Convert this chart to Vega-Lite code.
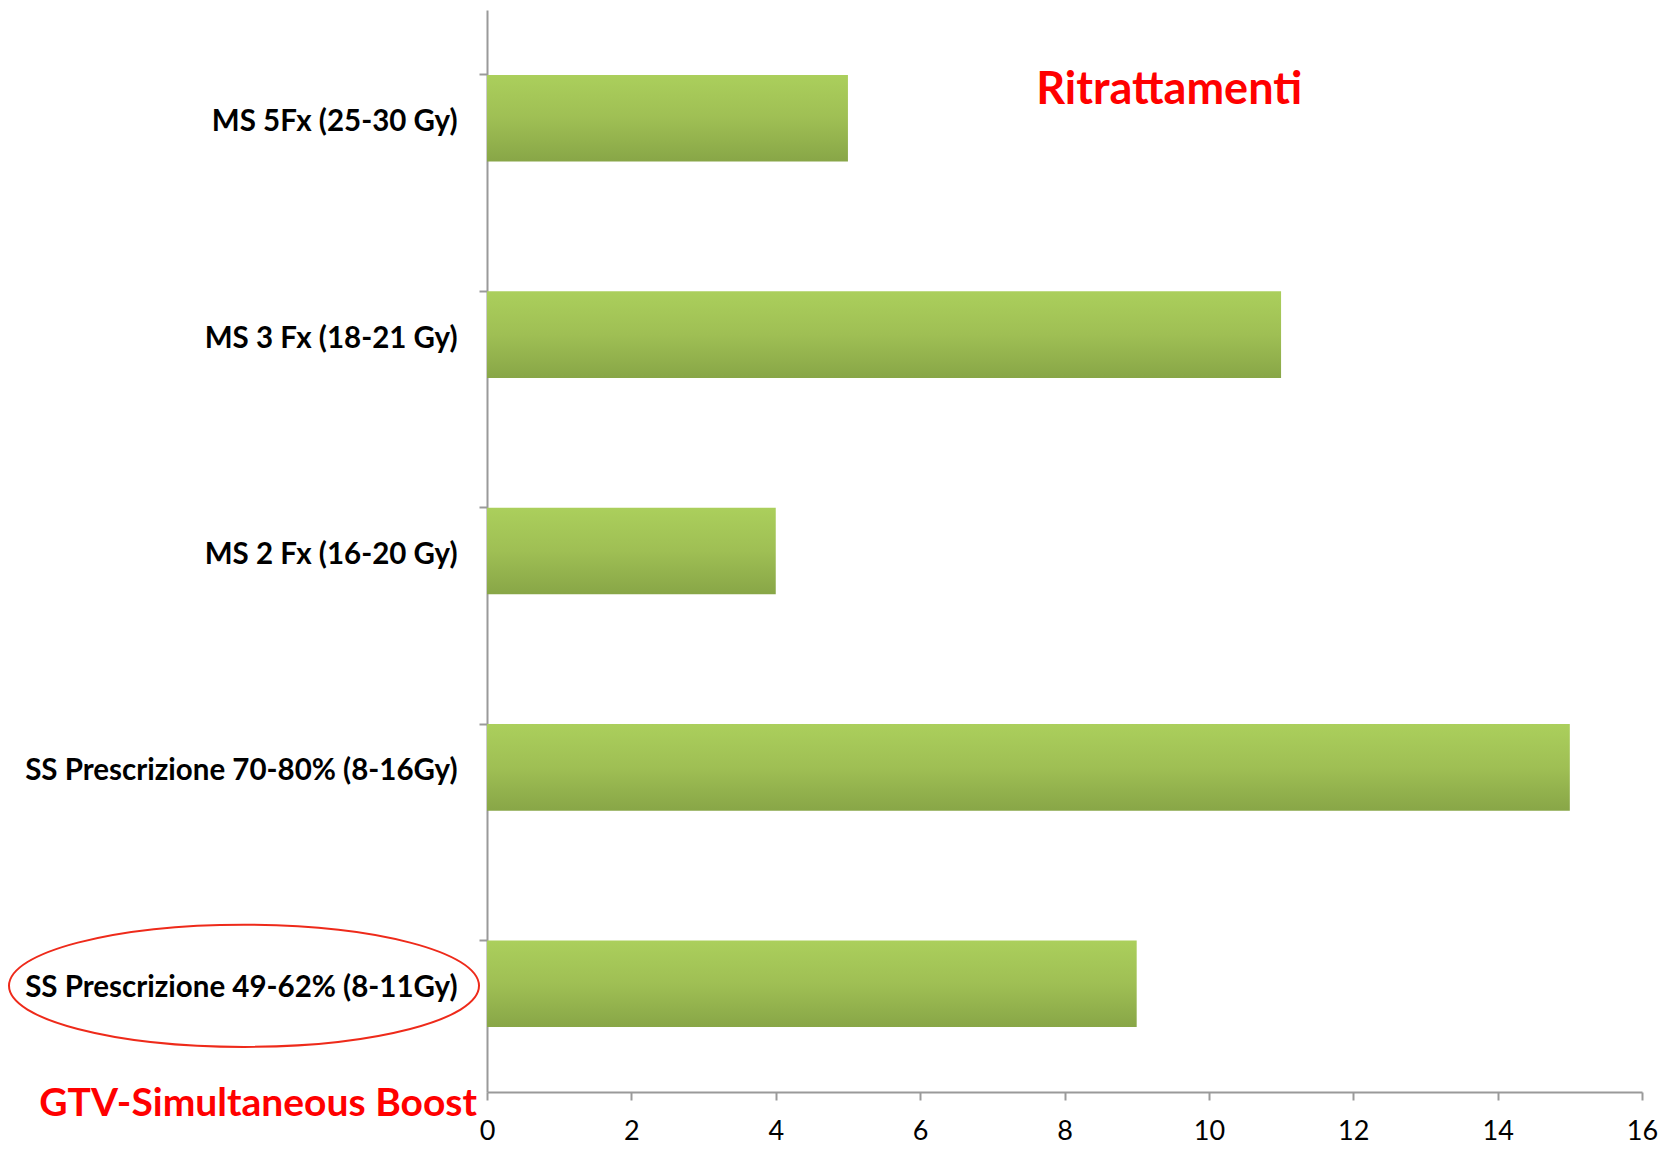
{
  "$schema": "https://vega.github.io/schema/vega-lite/v6.json",
  "autosize": {"type": "none"},
  "padding": {"left": 487, "top": 10, "right": 24, "bottom": 57},
  "width": 1155,
  "height": 1082,
  "background": "white",
  "config": {"view": {"stroke": null}},
  "data": {"values": [
    {"cat": "MS 5Fx (25-30 Gy)", "val": 5},
    {"cat": "MS 3 Fx (18-21 Gy)", "val": 11},
    {"cat": "MS 2 Fx (16-20 Gy)", "val": 4},
    {"cat": "SS Prescrizione 70-80% (8-16Gy)", "val": 15},
    {"cat": "SS Prescrizione 49-62% (8-11Gy)", "val": 9}
  ]},
  "encoding": {
    "y": {"field": "cat", "type": "nominal", "sort": null,
      "scale": {"paddingInner": 0.6, "paddingOuter": 0.3},
      "axis": {"title": null, "bandPosition": 0, "domainColor": "#9a9a9a", "domainWidth": 2,
        "tickColor": "#9a9a9a", "tickWidth": 2, "tickSize": 8,
        "labelFont": "Lato", "labelFontWeight": "bold", "labelFontSize": 29.5, "labelColor": "#000000",
        "labelPadding": 22, "labelLimit": 480, "labelOffset": 4}},
    "x": {"field": "val", "type": "quantitative",
      "scale": {"domain": [0, 16], "nice": false},
      "axis": {"title": null, "values": [0, 2, 4, 6, 8, 10, 12, 14, 16], "grid": false, "labelFlush": false,
        "domainColor": "#9a9a9a", "domainWidth": 2, "tickColor": "#9a9a9a", "tickWidth": 2, "tickSize": 8,
        "labelFont": "Lato", "labelFontSize": 27, "labelColor": "#000000", "labelPadding": 18}}
  },
  "layer": [
    {"mark": {"type": "bar", "color": {"gradient": "linear", "x1": 0, "y1": 0, "x2": 0, "y2": 1,
      "stops": [{"offset": 0, "color": "#abcf5c"}, {"offset": 0.5, "color": "#9fbf54"}, {"offset": 1, "color": "#88a647"}]}}},
    {"transform": [{"filter": "datum.cat === 'MS 5Fx (25-30 Gy)'"}],
      "mark": {"type": "text", "text": "Ritrattamenti", "font": "Lato", "fontWeight": "bold", "fontSize": 45,
        "color": "#ff0000", "align": "center", "baseline": "middle", "dy": -28},
      "encoding": {"x": {"datum": 9.45}}},
    {"transform": [{"filter": "datum.cat === 'SS Prescrizione 49-62% (8-11Gy)'"}],
      "mark": {"type": "text", "text": "GTV-Simultaneous Boost", "font": "Lato", "fontWeight": "bold", "fontSize": 39,
        "color": "#ff0000", "align": "right", "baseline": "middle", "dx": -10, "dy": 120},
      "encoding": {"x": {"datum": 0}}},
    {"transform": [{"filter": "datum.cat === 'SS Prescrizione 49-62% (8-11Gy)'"}],
      "mark": {"type": "point", "shape": "M -1 0 A 1 0.26 0 1 0 1 0 A 1 0.26 0 1 0 -1 0 Z",
        "size": 220900, "filled": false, "stroke": "#ee2a1a", "strokeWidth": 2, "opacity": 1,
        "xOffset": -243, "yOffset": 2},
      "encoding": {"x": {"datum": 0}}}
  ]
}
